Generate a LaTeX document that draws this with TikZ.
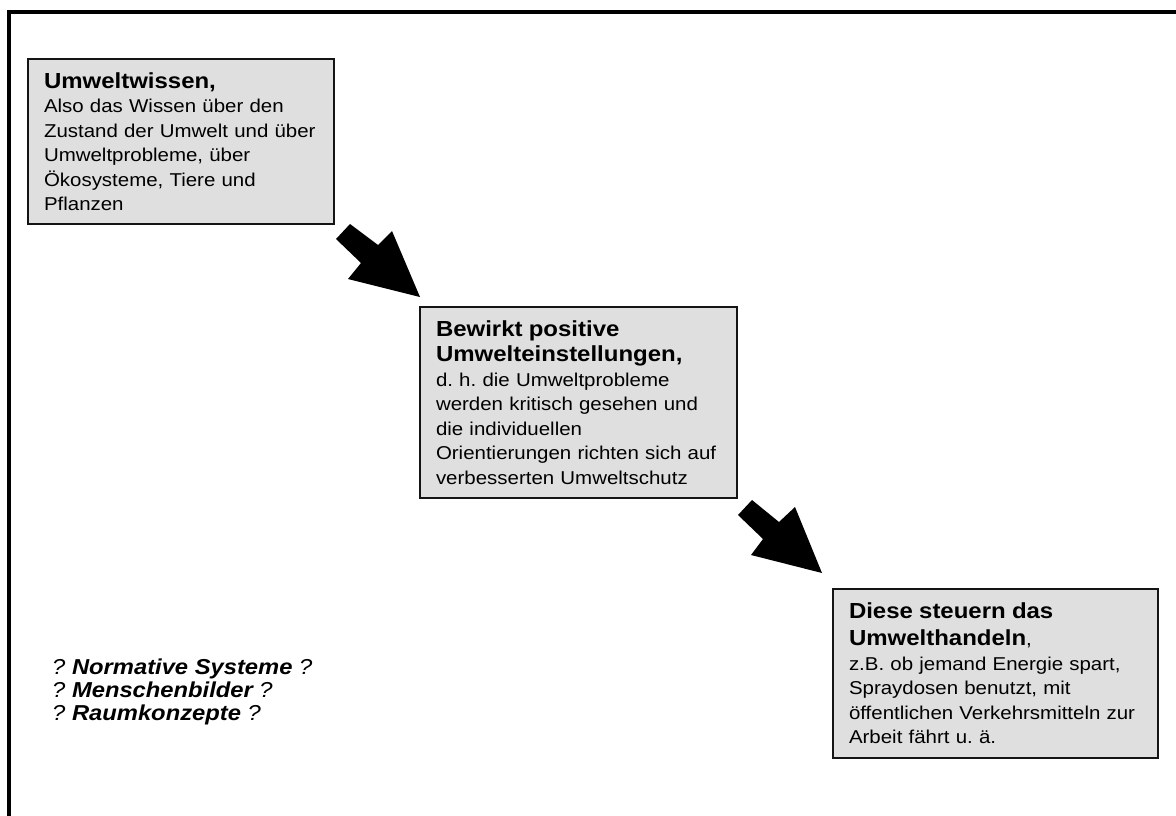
\documentclass[tikz,border=0pt]{standalone}
\usepackage{fontspec}
\setmainfont{Liberation Sans}[FakeStretch=1.1]
\frenchspacing
\definecolor{boxfill}{RGB}{223,223,223}
\definecolor{boxline}{RGB}{20,20,20}
\newcommand{\ttl}[1]{{\fontsize{21.8}{24.5}\selectfont\bfseries #1}}
\newcommand{\zl}[1]{\mbox{#1}}
\tikzset{
  box/.style={draw=boxline, line width=2pt, fill=boxfill, anchor=north west,
    align=left, inner xsep=16pt, inner ysep=0pt,
    font=\fontsize{18.6}{24.5}\selectfont\frenchspacing},
  blockarrow/.style={fill=black},
  frame/.style={line width=3.5pt, line join=miter},
  question/.style={anchor=north west, inner sep=0pt, align=left,
    font=\fontsize{21.6}{23}\selectfont\itshape}
}
\begin{document}
\begin{tikzpicture}[x=1pt,y=-1pt]
\useasboundingbox (0,0) rectangle (1176,816);
\draw[frame] (9,816) -- (9,12) -- (1176,12);

\node[box, text width=274pt, minimum height=165pt] (b1) at (27,58)
 {\zl{\ttl{Umweltwissen,}}\\
  \zl{Also das Wissen über den}\\
  \zl{Zustand der Umwelt und über}\\
  \zl{Umweltprobleme, über}\\
  \zl{Ökosysteme, Tiere und}\\
  \zl{Pflanzen}};

\node[box, text width=285pt, minimum height=191pt] (b2) at (419,306)
 {\zl{\ttl{Bewirkt positive}}\\[0.5pt]
  \zl{\ttl{Umwelteinstellungen,}}\\
  \zl{d. h. die Umweltprobleme}\\
  \zl{werden kritisch gesehen und}\\
  \zl{die individuellen}\\
  \zl{Orientierungen richten sich auf}\\
  \zl{verbesserten Umweltschutz}};

\node[box, text width=293pt, minimum height=169pt] (b3) at (832,588)
 {\zl{\ttl{Diese steuern das}}\\[2.5pt]
  \zl{\ttl{Umwelthandeln},}\\
  \zl{z.B. ob jemand Energie spart,}\\
  \zl{Spraydosen benutzt, mit}\\
  \zl{öffentlichen Verkehrsmitteln zur}\\
  \zl{Arbeit fährt u. ä.}};

% block arrow 1
\coordinate (a1t1) at (350,224);
\coordinate (a1j1) at (378,245);
\coordinate (a1h1) at (392,231);
\coordinate (a1tip) at (420,297);
\coordinate (a1h2) at (348,279);
\coordinate (a1j2) at (361,263);
\coordinate (a1t2) at (336,239);
\fill[blockarrow] (a1t1) -- (a1j1) -- (a1h1) -- (a1tip) -- (a1h2) -- (a1j2) -- (a1t2) -- cycle;

% block arrow 2
\coordinate (a2t1) at (752,500);
\coordinate (a2j1) at (779,522);
\coordinate (a2h1) at (795,507);
\coordinate (a2tip) at (822,573);
\coordinate (a2h2) at (751,555);
\coordinate (a2j2) at (763,539);
\coordinate (a2t2) at (738,515);
\fill[blockarrow] (a2t1) -- (a2j1) -- (a2h1) -- (a2tip) -- (a2h2) -- (a2j2) -- (a2t2) -- cycle;

\node[question] (q) at (52,659)
 {? \textbf{Normative Systeme} ?\\
  ? \textbf{Menschenbilder} ?\\
  ? \textbf{Raumkonzepte} ?};
\end{tikzpicture}
\end{document}
